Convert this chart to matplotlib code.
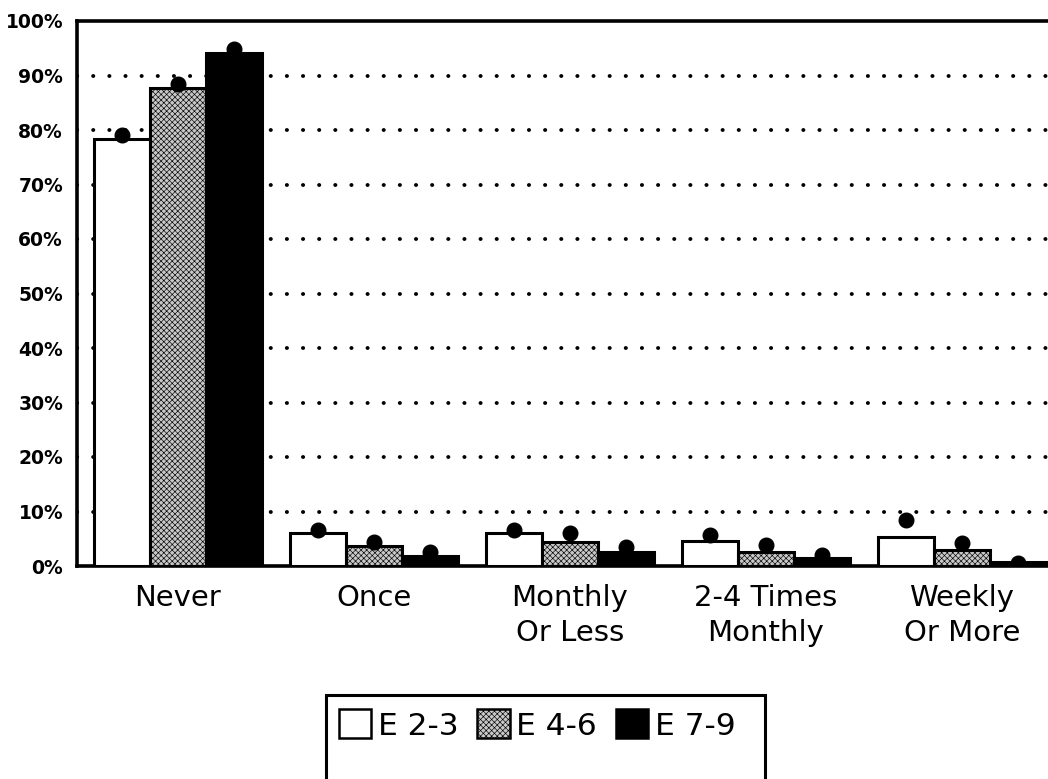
import matplotlib
matplotlib.use("Agg")
import matplotlib.pyplot as plt
import numpy as np
from matplotlib.patches import Patch, Rectangle

# ---- data ----
categories = ["Never", "Once", "Monthly\nOr Less", "2-4 Times\nMonthly", "Weekly\nOr More"]
series_names = ["E 2-3", "E 4-6", "E 7-9"]
bars_e23 = [78.4, 6.0, 6.0, 4.6, 5.3]
bars_e46 = [87.7, 3.7, 4.4, 2.6, 2.9]
bars_e79 = [94.1, 1.8, 2.6, 1.5, 0.8]
dots_e23 = [79.0, 6.6, 6.6, 5.7, 8.4]
dots_e46 = [88.4, 4.4, 6.0, 3.8, 4.2]
dots_e79 = [94.8, 2.6, 3.5, 2.0, 0.6]
ytick_vals = [0, 10, 20, 30, 40, 50, 60, 70, 80, 90, 100]
ytick_labels = [f"{v}%" for v in ytick_vals]

plt.rcParams['font.family'] = ['DejaVu Sans']
plt.rcParams['hatch.linewidth'] = 0.45

W, H = 1048, 779
fig = plt.figure(figsize=(W / 100, H / 100), dpi=100)
ax = fig.add_axes([77 / W, 1 - 566 / H, (1048 - 77) / W, (566 - 21) / H])

x = np.arange(len(categories))
bw = 0.285
styles = [
    dict(facecolor="white", hatch=None),
    dict(facecolor="#c8c8c8", hatch="xxxxxx"),
    dict(facecolor="black", hatch=None),
]
bar_sets = [bars_e23, bars_e46, bars_e79]
dot_sets = [dots_e23, dots_e46, dots_e79]

for i, (vals, dots, st) in enumerate(zip(bar_sets, dot_sets, styles)):
    pos = x + (i - 1) * bw
    ax.bar(pos, vals, width=bw, facecolor=st["facecolor"], hatch=st["hatch"],
           edgecolor="black", linewidth=2.2, zorder=3)
    ax.plot(pos, dots, "o", color="black", markersize=10.5, zorder=4, linestyle="none")

# dotted grid lines (interior ticks only)
ax.hlines(ytick_vals[1:-1], -0.515, 4.44, colors="black",
          linestyles=[(0, (0.05, 4.1))], linewidth=2.8, zorder=1,
          capstyle="round")

ax.set_xlim(-0.515, 4.44)
ax.set_ylim(0, 100)
ax.set_yticks(ytick_vals)
ax.set_yticklabels(ytick_labels, fontsize=13.5, fontweight="bold")
ax.tick_params(axis="y", length=0, pad=10)
ax.set_xticks(x)
ax.set_xticklabels(categories, fontsize=21, linespacing=1.3, va="top")
ax.tick_params(axis="x", length=0, pad=13)

for s in ["left", "top", "bottom"]:
    ax.spines[s].set_linewidth(2.6)
ax.spines["right"].set_visible(False)

# legend
handles = [Patch(facecolor=st["facecolor"], hatch=st["hatch"], edgecolor="black", linewidth=1.8)
           for st in styles]
fig.legend(handles, series_names, loc="center", bbox_to_anchor=(537 / W, 1 - 725 / H),
           ncol=3, frameon=False, prop={"size": 22.5},
           handlelength=1.05, handleheight=1.05,
           handletextpad=0.2, columnspacing=0.6, borderaxespad=0)
fig.patches.append(Rectangle((326 / W, -0.05), (765 - 326) / W, (1 - 695 / H) + 0.05,
                             transform=fig.transFigure, fill=False, edgecolor="black",
                             linewidth=2.2))

fig.savefig("out.png", dpi=100)
